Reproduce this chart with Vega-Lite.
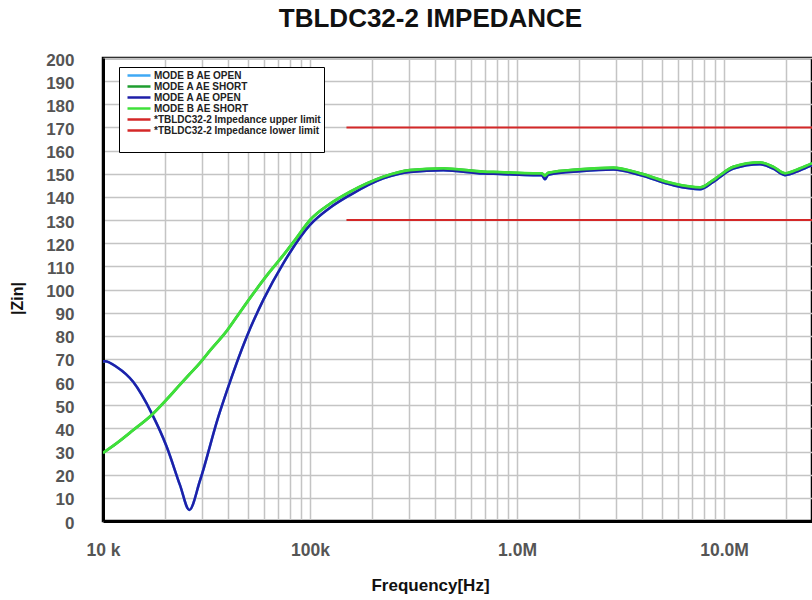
{
  "$schema": "https://vega.github.io/schema/vega-lite/v6.json",
  "width": 709,
  "height": 463,
  "autosize": {"type": "none"},
  "padding": {"left": 103, "top": 58, "right": 0, "bottom": 79},
  "background": "#ffffff",
  "title": {
    "text": "TBLDC32-2 IMPEDANCE",
    "font": "Liberation Sans",
    "fontSize": 26,
    "fontWeight": "bold",
    "color": "#111111",
    "anchor": "middle",
    "frame": "group",
    "dx": -27,
    "offset": 19
  },
  "datasets": {
    "curves": [
      {"s": "MODE B AE SHORT", "f": 10000, "z": 29.4},
      {"s": "MODE B AE SHORT", "f": 11650, "z": 33.6},
      {"s": "MODE B AE SHORT", "f": 14010, "z": 39.3},
      {"s": "MODE B AE SHORT", "f": 17190, "z": 45.8},
      {"s": "MODE B AE SHORT", "f": 20310, "z": 52.5},
      {"s": "MODE B AE SHORT", "f": 23550, "z": 58.9},
      {"s": "MODE B AE SHORT", "f": 26120, "z": 63.3},
      {"s": "MODE B AE SHORT", "f": 29420, "z": 68.3},
      {"s": "MODE B AE SHORT", "f": 33000, "z": 73.8},
      {"s": "MODE B AE SHORT", "f": 39600, "z": 82.1},
      {"s": "MODE B AE SHORT", "f": 44500, "z": 88.5},
      {"s": "MODE B AE SHORT", "f": 51300, "z": 96.3},
      {"s": "MODE B AE SHORT", "f": 61770, "z": 106},
      {"s": "MODE B AE SHORT", "f": 74300, "z": 114.8},
      {"s": "MODE B AE SHORT", "f": 86260, "z": 122.4},
      {"s": "MODE B AE SHORT", "f": 100000, "z": 130},
      {"s": "MODE B AE SHORT", "f": 124900, "z": 137},
      {"s": "MODE B AE SHORT", "f": 156100, "z": 142.2},
      {"s": "MODE B AE SHORT", "f": 187900, "z": 145.8},
      {"s": "MODE B AE SHORT", "f": 226000, "z": 148.7},
      {"s": "MODE B AE SHORT", "f": 304200, "z": 151.6},
      {"s": "MODE B AE SHORT", "f": 440600, "z": 152.3},
      {"s": "MODE B AE SHORT", "f": 687300, "z": 150.9},
      {"s": "MODE B AE SHORT", "f": 827800, "z": 150.7},
      {"s": "MODE B AE SHORT", "f": 1199000, "z": 150.2},
      {"s": "MODE B AE SHORT", "f": 1316000, "z": 150.2},
      {"s": "MODE B AE SHORT", "f": 1365000, "z": 149.2},
      {"s": "MODE B AE SHORT", "f": 1416000, "z": 150.4},
      {"s": "MODE B AE SHORT", "f": 2016000, "z": 151.9},
      {"s": "MODE B AE SHORT", "f": 2919000, "z": 152.6},
      {"s": "MODE B AE SHORT", "f": 3928000, "z": 150.2},
      {"s": "MODE B AE SHORT", "f": 5690000, "z": 145.8},
      {"s": "MODE B AE SHORT", "f": 7658000, "z": 144.1},
      {"s": "MODE B AE SHORT", "f": 8879000, "z": 147.3},
      {"s": "MODE B AE SHORT", "f": 11089000, "z": 153},
      {"s": "MODE B AE SHORT", "f": 14926000, "z": 154.9},
      {"s": "MODE B AE SHORT", "f": 17305000, "z": 153},
      {"s": "MODE B AE SHORT", "f": 19709000, "z": 150.2},
      {"s": "MODE B AE SHORT", "f": 23280000, "z": 152.3},
      {"s": "MODE B AE SHORT", "f": 26610000, "z": 154.5},

      {"s": "MODE A AE SHORT", "f": 10000, "z": 29.4},
      {"s": "MODE A AE SHORT", "f": 11650, "z": 33.6},
      {"s": "MODE A AE SHORT", "f": 14010, "z": 39.3},
      {"s": "MODE A AE SHORT", "f": 17190, "z": 45.8},
      {"s": "MODE A AE SHORT", "f": 20310, "z": 52.5},
      {"s": "MODE A AE SHORT", "f": 23550, "z": 58.9},
      {"s": "MODE A AE SHORT", "f": 26120, "z": 63.3},
      {"s": "MODE A AE SHORT", "f": 29420, "z": 68.3},
      {"s": "MODE A AE SHORT", "f": 33000, "z": 73.8},
      {"s": "MODE A AE SHORT", "f": 39600, "z": 82.1},
      {"s": "MODE A AE SHORT", "f": 44500, "z": 88.5},
      {"s": "MODE A AE SHORT", "f": 51300, "z": 96.3},
      {"s": "MODE A AE SHORT", "f": 61770, "z": 106},
      {"s": "MODE A AE SHORT", "f": 74300, "z": 114.8},
      {"s": "MODE A AE SHORT", "f": 86260, "z": 122.4},
      {"s": "MODE A AE SHORT", "f": 100000, "z": 130},
      {"s": "MODE A AE SHORT", "f": 124900, "z": 137},
      {"s": "MODE A AE SHORT", "f": 156100, "z": 142.2},
      {"s": "MODE A AE SHORT", "f": 187900, "z": 145.8},
      {"s": "MODE A AE SHORT", "f": 226000, "z": 148.7},
      {"s": "MODE A AE SHORT", "f": 304200, "z": 151.6},
      {"s": "MODE A AE SHORT", "f": 440600, "z": 152.3},
      {"s": "MODE A AE SHORT", "f": 687300, "z": 150.9},
      {"s": "MODE A AE SHORT", "f": 827800, "z": 150.7},
      {"s": "MODE A AE SHORT", "f": 1199000, "z": 150.2},
      {"s": "MODE A AE SHORT", "f": 1316000, "z": 150.2},
      {"s": "MODE A AE SHORT", "f": 1365000, "z": 149.2},
      {"s": "MODE A AE SHORT", "f": 1416000, "z": 150.4},
      {"s": "MODE A AE SHORT", "f": 2016000, "z": 151.9},
      {"s": "MODE A AE SHORT", "f": 2919000, "z": 152.6},
      {"s": "MODE A AE SHORT", "f": 3928000, "z": 150.2},
      {"s": "MODE A AE SHORT", "f": 5690000, "z": 145.8},
      {"s": "MODE A AE SHORT", "f": 7658000, "z": 144.1},
      {"s": "MODE A AE SHORT", "f": 8879000, "z": 147.3},
      {"s": "MODE A AE SHORT", "f": 11089000, "z": 153},
      {"s": "MODE A AE SHORT", "f": 14926000, "z": 154.9},
      {"s": "MODE A AE SHORT", "f": 17305000, "z": 153},
      {"s": "MODE A AE SHORT", "f": 19709000, "z": 150.2},
      {"s": "MODE A AE SHORT", "f": 23280000, "z": 152.3},
      {"s": "MODE A AE SHORT", "f": 26610000, "z": 154.5},

      {"s": "MODE A AE OPEN", "f": 10000, "z": 69},
      {"s": "MODE A AE OPEN", "f": 10220, "z": 69},
      {"s": "MODE A AE OPEN", "f": 11650, "z": 66.5},
      {"s": "MODE A AE OPEN", "f": 14010, "z": 60},
      {"s": "MODE A AE OPEN", "f": 17190, "z": 46.5},
      {"s": "MODE A AE OPEN", "f": 20310, "z": 32.1},
      {"s": "MODE A AE OPEN", "f": 23550, "z": 15.5},
      {"s": "MODE A AE OPEN", "f": 26120, "z": 4.8},
      {"s": "MODE A AE OPEN", "f": 29420, "z": 17.5},
      {"s": "MODE A AE OPEN", "f": 36060, "z": 45},
      {"s": "MODE A AE OPEN", "f": 39600, "z": 56},
      {"s": "MODE A AE OPEN", "f": 49460, "z": 79.6},
      {"s": "MODE A AE OPEN", "f": 59500, "z": 95.5},
      {"s": "MODE A AE OPEN", "f": 74300, "z": 111.3},
      {"s": "MODE A AE OPEN", "f": 100000, "z": 127.9},
      {"s": "MODE A AE OPEN", "f": 124900, "z": 135.3},
      {"s": "MODE A AE OPEN", "f": 156100, "z": 140.8},
      {"s": "MODE A AE OPEN", "f": 226000, "z": 148},
      {"s": "MODE A AE OPEN", "f": 304200, "z": 150.8},
      {"s": "MODE A AE OPEN", "f": 440600, "z": 151.5},
      {"s": "MODE A AE OPEN", "f": 687300, "z": 150.1},
      {"s": "MODE A AE OPEN", "f": 827800, "z": 149.9},
      {"s": "MODE A AE OPEN", "f": 1199000, "z": 149.4},
      {"s": "MODE A AE OPEN", "f": 1316000, "z": 149.4},
      {"s": "MODE A AE OPEN", "f": 1365000, "z": 147.6},
      {"s": "MODE A AE OPEN", "f": 1416000, "z": 149.6},
      {"s": "MODE A AE OPEN", "f": 2016000, "z": 151.1},
      {"s": "MODE A AE OPEN", "f": 2919000, "z": 151.8},
      {"s": "MODE A AE OPEN", "f": 3928000, "z": 149.4},
      {"s": "MODE A AE OPEN", "f": 5690000, "z": 145},
      {"s": "MODE A AE OPEN", "f": 7658000, "z": 143.3},
      {"s": "MODE A AE OPEN", "f": 8879000, "z": 146.5},
      {"s": "MODE A AE OPEN", "f": 11089000, "z": 152.2},
      {"s": "MODE A AE OPEN", "f": 14926000, "z": 154.1},
      {"s": "MODE A AE OPEN", "f": 17305000, "z": 152.2},
      {"s": "MODE A AE OPEN", "f": 19709000, "z": 149.4},
      {"s": "MODE A AE OPEN", "f": 23280000, "z": 151.5},
      {"s": "MODE A AE OPEN", "f": 26610000, "z": 153.7},

      {"s": "MODE B AE OPEN", "f": 10000, "z": 69},
      {"s": "MODE B AE OPEN", "f": 10220, "z": 69},
      {"s": "MODE B AE OPEN", "f": 11650, "z": 66.5},
      {"s": "MODE B AE OPEN", "f": 14010, "z": 60},
      {"s": "MODE B AE OPEN", "f": 17190, "z": 46.5},
      {"s": "MODE B AE OPEN", "f": 20310, "z": 32.1},
      {"s": "MODE B AE OPEN", "f": 23550, "z": 15.5},
      {"s": "MODE B AE OPEN", "f": 26120, "z": 4.8},
      {"s": "MODE B AE OPEN", "f": 29420, "z": 17.5},
      {"s": "MODE B AE OPEN", "f": 36060, "z": 45},
      {"s": "MODE B AE OPEN", "f": 39600, "z": 56},
      {"s": "MODE B AE OPEN", "f": 49460, "z": 79.6},
      {"s": "MODE B AE OPEN", "f": 59500, "z": 95.5},
      {"s": "MODE B AE OPEN", "f": 74300, "z": 111.3},
      {"s": "MODE B AE OPEN", "f": 100000, "z": 127.9},
      {"s": "MODE B AE OPEN", "f": 124900, "z": 135.3},
      {"s": "MODE B AE OPEN", "f": 156100, "z": 140.8},
      {"s": "MODE B AE OPEN", "f": 226000, "z": 148},
      {"s": "MODE B AE OPEN", "f": 304200, "z": 150.8},
      {"s": "MODE B AE OPEN", "f": 440600, "z": 151.5},
      {"s": "MODE B AE OPEN", "f": 687300, "z": 150.1},
      {"s": "MODE B AE OPEN", "f": 827800, "z": 149.9},
      {"s": "MODE B AE OPEN", "f": 1199000, "z": 149.4},
      {"s": "MODE B AE OPEN", "f": 1316000, "z": 149.4},
      {"s": "MODE B AE OPEN", "f": 1365000, "z": 147.6},
      {"s": "MODE B AE OPEN", "f": 1416000, "z": 149.6},
      {"s": "MODE B AE OPEN", "f": 2016000, "z": 151.1},
      {"s": "MODE B AE OPEN", "f": 2919000, "z": 151.8},
      {"s": "MODE B AE OPEN", "f": 3928000, "z": 149.4},
      {"s": "MODE B AE OPEN", "f": 5690000, "z": 145},
      {"s": "MODE B AE OPEN", "f": 7658000, "z": 143.3},
      {"s": "MODE B AE OPEN", "f": 8879000, "z": 146.5},
      {"s": "MODE B AE OPEN", "f": 11089000, "z": 152.2},
      {"s": "MODE B AE OPEN", "f": 14926000, "z": 154.1},
      {"s": "MODE B AE OPEN", "f": 17305000, "z": 152.2},
      {"s": "MODE B AE OPEN", "f": 19709000, "z": 149.4},
      {"s": "MODE B AE OPEN", "f": 23280000, "z": 151.5},
      {"s": "MODE B AE OPEN", "f": 26610000, "z": 153.7}
    ],
    "limits": [
      {"f": 150000, "z": 170, "s": "*TBLDC32-2 Impedance upper limit"},
      {"f": 26610000, "z": 170, "s": "*TBLDC32-2 Impedance upper limit"},
      {"f": 150000, "z": 130, "s": "*TBLDC32-2 Impedance lower limit"},
      {"f": 26610000, "z": 130, "s": "*TBLDC32-2 Impedance lower limit"}
    ]
  },
  "data": {"name": "curves"},
  "encoding": {
    "x": {
      "field": "f",
      "type": "quantitative",
      "scale": {"type": "log", "domain": [10000, 26610000], "nice": false},
      "axis": {
        "title": "Frequency[Hz]",
        "titleFontSize": 17,
        "titleX": 327,
        "titleY": 69,
        "titleBaseline": "alphabetic",
        "titleAlign": "center",
        "titleAnchor": null,
        "labelPadding": 20,
        "labelFontSize": 17.5,
        "labelFlush": false,
        "labelOverlap": false,
        "values": [10000, 20000, 30000, 40000, 50000, 60000, 70000, 80000, 90000, 100000, 200000, 300000, 400000, 500000, 600000, 700000, 800000, 900000, 1000000, 2000000, 3000000, 4000000, 5000000, 6000000, 7000000, 8000000, 9000000, 10000000, 20000000],
        "labelExpr": "datum.value == 10000 ? '10 k' : datum.value == 100000 ? '100k' : datum.value == 1000000 ? '1.0M' : datum.value == 10000000 ? '10.0M' : ''"
      }
    },
    "y": {
      "field": "z",
      "type": "quantitative",
      "scale": {"domain": [0, 200], "nice": false, "zero": false},
      "axis": {
        "title": "|Zin|",
        "titleFontSize": 16,
        "titleX": -86,
        "titleY": 240,
        "titleAngle": -90,
        "titleBaseline": "middle",
        "titleAlign": "center",
        "titleAnchor": null,
        "labelPadding": 29,
        "labelOffset": 2,
        "labelFontSize": 17,
        "values": [0, 10, 20, 30, 40, 50, 60, 70, 80, 90, 100, 110, 120, 130, 140, 150, 160, 170, 180, 190, 200]
      }
    },
    "color": {
      "field": "s",
      "type": "nominal",
      "scale": {
        "domain": ["MODE B AE OPEN", "MODE A AE SHORT", "MODE A AE OPEN", "MODE B AE SHORT", "*TBLDC32-2 Impedance upper limit", "*TBLDC32-2 Impedance lower limit"],
        "range": ["#3fa9f5", "#1f9e2f", "#1f1fa8", "#3fe03a", "#d42828", "#d42828"]
      },
      "legend": {
        "orient": "none",
        "legendX": 16,
        "legendY": 9,
        "title": "\u00a0",
        "titleOrient": "bottom",
        "titleFontSize": 12,
        "titlePadding": 2
      }
    }
  },
  "layer": [
    {
      "transform": [{"filter": {"field": "s", "oneOf": ["MODE B AE OPEN", "MODE A AE SHORT"]}}],
      "mark": {"type": "line", "strokeWidth": 2.5, "clip": true, "interpolate": "monotone"}
    },
    {
      "transform": [{"filter": {"field": "s", "equal": "MODE A AE OPEN"}}],
      "mark": {"type": "line", "strokeWidth": 2.5, "clip": true, "interpolate": "monotone"}
    },
    {
      "transform": [{"filter": {"field": "s", "equal": "MODE B AE SHORT"}}],
      "mark": {"type": "line", "strokeWidth": 2.8, "clip": true, "interpolate": "monotone"}
    },
    {
      "data": {"name": "limits"},
      "mark": {"type": "line", "strokeWidth": 2, "clip": true}
    }
  ],
  "config": {
    "font": "Liberation Sans",
    "view": {"stroke": "#000000", "strokeWidth": 2.5},
    "axis": {
      "grid": true,
      "gridColor": "#c4c4c4",
      "gridWidth": 1.5,
      "ticks": false,
      "tickSize": 0,
      "domainColor": "#000000",
      "domainWidth": 3,
      "labelFont": "Liberation Sans",
      "labelFontWeight": "bold",
      "labelColor": "#555555",
      "titleFont": "Liberation Sans",
      "titleFontWeight": "bold",
      "titleColor": "#111111"
    },
    "legend": {
      "strokeColor": "#000000",
      "fillColor": "#ffffff",
      "padding": 3,
      "symbolType": "M0,0H5.75",
      "symbolStrokeWidth": 2.5,
      "symbolSize": 64,
      "labelFont": "Liberation Sans",
      "labelFontWeight": "bold",
      "labelFontSize": 10,
      "labelColor": "#222222",
      "labelOffset": 21,
      "labelLimit": 300,
      "rowPadding": 0
    }
  }
}
